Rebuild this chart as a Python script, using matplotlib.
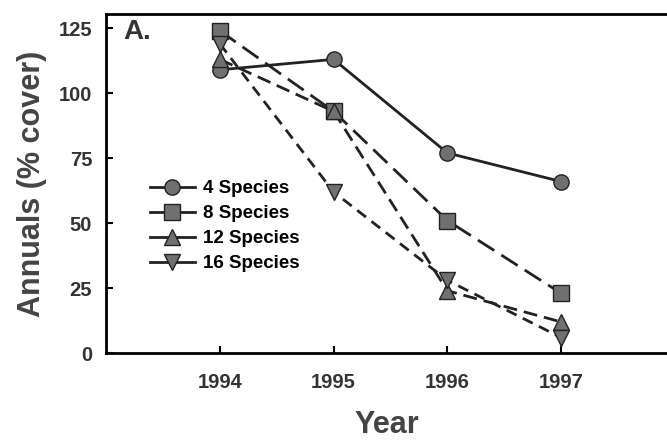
import numpy as np
from matplotlib import pyplot as plt
from matplotlib.lines import Line2D

# values (% cover of annuals)
years = [1994, 1995, 1996, 1997]
sp4 = [109, 113, 77, 66]
sp8 = [124, 93, 51, 23]
sp12 = [113, 93, 24, 12]
sp16 = [119, 62, 28, 6]
labels = ['4 Species', '8 Species', '12 Species', '16 Species']

plt.rcParams['font.family'] = ['Liberation Sans', 'DejaVu Sans']
plt.rcParams['font.weight'] = 'bold'

fig = plt.figure(figsize=(6.67, 4.42), dpi=100)
ax = fig.add_axes([0.159, 0.201, 0.841, 0.767])

gray = '#707070'
ink = '#222222'
styles = [
	(sp4, 'o', '-'),
	(sp8, 's', (0, (7, 3))),
	(sp12, '^', (0, (5, 2.5))),
	(sp16, 'v', (0, (4, 2.5))),
]
for (vals, mk, ls), lab in zip(styles, labels):
	ax.plot(years, vals, color=ink, lw=2.0, ls=ls, marker=mk,
		ms=11, mfc=gray, mec=ink, mew=1.0, label=lab)

ax.set_xlim(1993.0, 1997.93)
ax.set_ylim(0, 130.4)
ax.set_xticks(years)
ax.set_yticks([0, 25, 50, 75, 100, 125])
ax.tick_params(direction='in', length=5, width=1.5, labelsize=14.5, labelcolor='#333333')
ax.tick_params(axis='y', pad=10)
ax.tick_params(axis='x', pad=14)
ax.spines['right'].set_visible(False)
for s in ['left', 'bottom', 'top']:
	ax.spines[s].set_linewidth(2.0)

ax.set_ylabel('Annuals (% cover)', fontsize=22, fontweight='bold', color='#444444', labelpad=8)
ax.set_xlabel('Year', fontsize=22, fontweight='bold', color='#444444', labelpad=13)
ax.text(0.03, 0.985, 'A.', transform=ax.transAxes, fontsize=20, fontweight='bold',
	va='top', ha='left', color='#333333')

handles = []
for (vals, mk, ls), lab in zip(styles, labels):
	handles.append(Line2D([], [], color=ink, lw=2.0, ls='-', marker=mk,
		ms=11, mfc=gray, mec=ink))
ax.legend(handles, labels, loc='upper left', bbox_to_anchor=(0.078, 0.51), frameon=False,
	fontsize=13.5, handlelength=2.4, labelspacing=0.42, handletextpad=0.45,
	borderaxespad=0, borderpad=0)

fig.savefig('out.png', dpi=100)
